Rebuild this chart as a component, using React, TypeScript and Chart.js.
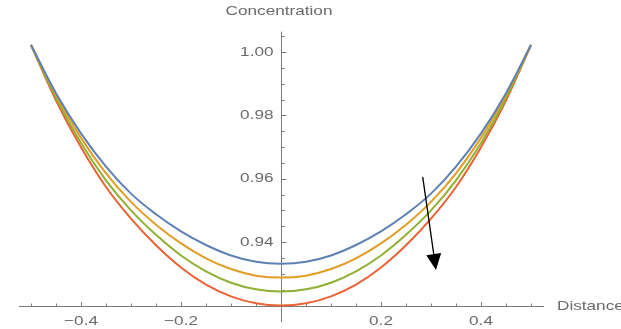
import { useEffect, useRef } from 'react';
import { Chart, registerables } from 'chart.js';

Chart.register(...registerables);

// ---- data ----
const distance = [
  -0.5, -0.45, -0.4, -0.35, -0.3, -0.25, -0.2, -0.15, -0.1, -0.05, 0,
  0.05, 0.1, 0.15, 0.2, 0.25, 0.3, 0.35, 0.4, 0.45, 0.5,
];
const concBlue = [
  1.0022, 0.987, 0.9743, 0.9638, 0.9553, 0.9488, 0.9434, 0.9391, 0.9358, 0.9338, 0.9332,
  0.9338, 0.9358, 0.9391, 0.9434, 0.9488, 0.9553, 0.9638, 0.9743, 0.987, 1.0022,
];
const concOrange = [
  1.0022, 0.9865, 0.9729, 0.9617, 0.9527, 0.9455, 0.9396, 0.9349, 0.9315, 0.9294, 0.9288,
  0.9294, 0.9315, 0.9349, 0.9396, 0.9455, 0.9527, 0.9617, 0.9729, 0.9865, 1.0022,
];
const concGreen = [
  1.0022, 0.9855, 0.9713, 0.9595, 0.95, 0.9423, 0.9358, 0.9308, 0.9272, 0.9251, 0.9244,
  0.9251, 0.9272, 0.9308, 0.9358, 0.9423, 0.95, 0.9595, 0.9713, 0.9855, 1.0022,
];
const concRed = [
  1.0022, 0.9847, 0.9699, 0.9574, 0.9474, 0.939, 0.932, 0.9266, 0.9229, 0.9207, 0.92,
  0.9207, 0.9229, 0.9266, 0.932, 0.939, 0.9474, 0.9574, 0.9699, 0.9847, 1.0022,
];

const xMajorTicks = [-0.4, -0.2, 0.2, 0.4];
const xMajorLabels = ['\u22120.4', '\u22120.2', '0.2', '0.4'];
const xMinorTicks = [
  -0.5, -0.45, -0.35, -0.3, -0.25, -0.15, -0.1, -0.05,
  0.05, 0.1, 0.15, 0.25, 0.3, 0.35, 0.45, 0.5,
];
const yMajorTicks = [0.94, 0.96, 0.98, 1.0];
const yMajorLabels = ['0.94', '0.96', '0.98', '1.00'];
const yMinorTicks = [0.925, 0.93, 0.935, 0.945, 0.95, 0.955, 0.965, 0.97, 0.975, 0.985, 0.99, 0.995, 1.005];

const xAxisTitle = 'Distance';
const yAxisTitle = 'Concentration';

// arrow annotation (data units)
const arrowStart = { x: 0.2834, y: 0.9606 };
const arrowTip = { x: 0.31, y: 0.9312 };

const X_MIN = -0.524;
const X_MAX = 0.526;
const Y_MIN = 0.9147;
const Y_MAX = 1.0064;
const AXIS_Y_AT = 0.92;
const AXIS_X_AT = 0;

const COLORS = ['#5E81B5', '#E19C24', '#8FB032', '#EB6235'];
const TEXT_COLOR = '#6a6a6a';
const AXIS_COLOR = '#7a7a7a';
const FONT = '13px "Liberation Sans", Arial, sans-serif';
const STRETCH = 1.32;

function drawText(ctx: CanvasRenderingContext2D, text: string, x: number, y: number, align: CanvasTextAlign) {
  ctx.save();
  ctx.translate(x, y);
  ctx.scale(STRETCH, 1);
  ctx.font = FONT;
  ctx.fillStyle = TEXT_COLOR;
  ctx.textAlign = align;
  ctx.textBaseline = 'middle';
  ctx.fillText(text, 0, 0);
  ctx.restore();
}

const axesPlugin = {
  id: 'mmaAxes',
  beforeDatasetsDraw(chart: any) {
    const ctx: CanvasRenderingContext2D = chart.ctx;
    const xs = chart.scales.x;
    const ys = chart.scales.y;
    const x0 = xs.getPixelForValue(AXIS_X_AT);
    const y0 = ys.getPixelForValue(AXIS_Y_AT);
    ctx.save();
    ctx.strokeStyle = AXIS_COLOR;
    ctx.lineWidth = 1;
    // x axis
    ctx.beginPath();
    ctx.moveTo(xs.getPixelForValue(X_MIN), Math.round(y0) + 0.5);
    ctx.lineTo(xs.getPixelForValue(X_MAX), Math.round(y0) + 0.5);
    ctx.stroke();
    // y axis
    ctx.beginPath();
    ctx.moveTo(Math.round(x0) + 0.5, ys.getPixelForValue(Y_MAX));
    ctx.lineTo(Math.round(x0) + 0.5, ys.getPixelForValue(Y_MIN));
    ctx.stroke();
    // x ticks
    const yy = Math.round(y0);
    xMajorTicks.forEach((v) => {
      const px = Math.round(xs.getPixelForValue(v)) + 0.5;
      ctx.beginPath();
      ctx.moveTo(px, yy);
      ctx.lineTo(px, yy - 4);
      ctx.stroke();
    });
    xMinorTicks.forEach((v) => {
      const px = Math.round(xs.getPixelForValue(v)) + 0.5;
      ctx.beginPath();
      ctx.moveTo(px, yy);
      ctx.lineTo(px, yy - 2.5);
      ctx.stroke();
    });
    // y ticks
    const xx = Math.round(x0) + 1;
    yMajorTicks.forEach((v) => {
      const py = Math.round(ys.getPixelForValue(v)) + 0.5;
      ctx.beginPath();
      ctx.moveTo(xx, py);
      ctx.lineTo(xx + 4.5, py);
      ctx.stroke();
    });
    yMinorTicks.forEach((v) => {
      const py = Math.round(ys.getPixelForValue(v)) + 0.5;
      ctx.beginPath();
      ctx.moveTo(xx, py);
      ctx.lineTo(xx + 2.8, py);
      ctx.stroke();
    });
    ctx.restore();

    // labels
    xMajorTicks.forEach((v, i) => {
      drawText(ctx, xMajorLabels[i], xs.getPixelForValue(v), y0 + 15.5, 'center');
    });
    yMajorTicks.forEach((v, i) => {
      drawText(ctx, yMajorLabels[i], x0 - 7.5, ys.getPixelForValue(v), 'right');
    });
    drawText(ctx, yAxisTitle, x0 - 2, 11.5, 'center');
    drawText(ctx, xAxisTitle, xs.getPixelForValue(X_MAX) + 13, y0 + 1, 'left');
  },
  afterDatasetsDraw(chart: any) {
    const ctx: CanvasRenderingContext2D = chart.ctx;
    const xs = chart.scales.x;
    const ys = chart.scales.y;
    const sx = xs.getPixelForValue(arrowStart.x);
    const sy = ys.getPixelForValue(arrowStart.y);
    const tx = xs.getPixelForValue(arrowTip.x);
    const ty = ys.getPixelForValue(arrowTip.y);
    const ang = Math.atan2(ty - sy, tx - sx);
    const headLen = 16;
    const headHalf = 7.5;
    const bx = tx - headLen * Math.cos(ang);
    const by = ty - headLen * Math.sin(ang);
    ctx.save();
    ctx.strokeStyle = '#000';
    ctx.fillStyle = '#000';
    ctx.lineWidth = 1.3;
    ctx.beginPath();
    ctx.moveTo(sx, sy);
    ctx.lineTo(bx, by);
    ctx.stroke();
    ctx.beginPath();
    ctx.moveTo(tx, ty);
    ctx.lineTo(bx + headHalf * Math.sin(ang), by - headHalf * Math.cos(ang));
    ctx.lineTo(bx - headHalf * Math.sin(ang), by + headHalf * Math.cos(ang));
    ctx.closePath();
    ctx.fill();
    ctx.restore();
  },
};

export default function App() {
  const ref = useRef<HTMLCanvasElement | null>(null);
  useEffect(() => {
    if (!ref.current) return;
    const series = [concBlue, concOrange, concGreen, concRed];
    const chart = new Chart(ref.current, {
      type: 'line',
      data: {
        datasets: series.map((s, i) => ({
          label: 'c' + i,
          data: distance.map((d, j) => ({ x: d, y: s[j] })),
          borderColor: COLORS[i],
          borderWidth: 2,
          pointRadius: 0,
          fill: false,
          tension: 0.4,
          clip: false as any,
        })),
      },
      options: {
        animation: false,
        responsive: false,
        devicePixelRatio: 1,
        layout: { padding: { left: 19, right: 77, top: 31.7, bottom: 6.7 } },
        plugins: { legend: { display: false }, tooltip: { enabled: false } },
        events: [],
        scales: {
          x: { type: 'linear', min: X_MIN, max: X_MAX, display: false },
          y: { type: 'linear', min: Y_MIN, max: Y_MAX, display: false },
        },
      },
      plugins: [axesPlugin],
    });
    return () => chart.destroy();
  }, []);
  return (
    <div style={{ position: 'fixed', left: 0, top: 0, width: 621, height: 329, background: '#fff' }}>
      <canvas ref={ref} width={621} height={329} />
    </div>
  );
}
